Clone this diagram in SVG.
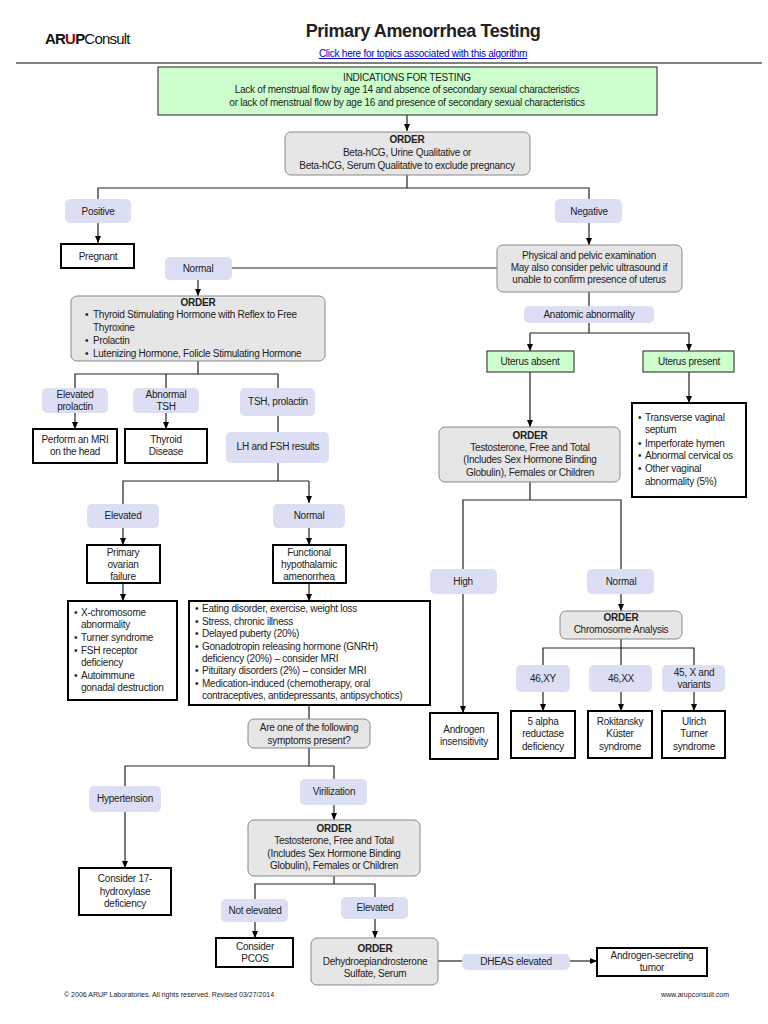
<svg xmlns="http://www.w3.org/2000/svg" width="768" height="1024" viewBox="0 0 768 1024">
<defs>
<marker id="ah" markerWidth="8" markerHeight="8" refX="7" refY="4" orient="auto" markerUnits="userSpaceOnUse"><path d="M0,1 L7,4 L0,7 Z" fill="#000"/></marker>
<style>
text{font-family:"Liberation Sans",Arial,sans-serif;font-size:10px;letter-spacing:-0.25px;fill:#222;text-anchor:middle}
.l{text-anchor:start}
.b{font-weight:bold}
.pill{fill:#dcdff3;stroke:none}
.grey{fill:#e6e6e6;stroke:#888;stroke-width:1}
.res{fill:#fff;stroke:#000;stroke-width:2}
.green{fill:#ccffcc;stroke:#444;stroke-width:1.2}
.c{fill:none;stroke:#222;stroke-width:1.2}
.a{fill:none;stroke:#222;stroke-width:1.2;marker-end:url(#ah)}
</style>
</defs>
<rect width="768" height="1024" fill="#fff"/>
<g id="header">
<text x="45" y="44" class="l" style="font-size:15px;font-weight:bold;fill:#111;letter-spacing:-0.8px">AR<tspan fill="#a00">U</tspan>P<tspan style="font-weight:normal">Consult</tspan></text>
<text x="423" y="37" class="b" style="font-size:18px;letter-spacing:-0.4px">Primary Amenorrhea Testing</text>
<text x="423" y="57" style="font-size:10px;fill:#00c;text-decoration:underline">Click here for topics associated with this algorithm</text>
<line x1="16" y1="63" x2="762" y2="63" stroke="#000" stroke-width="1.2"/>
</g>
<g id="connectors">
<path class="a" d="M407,115 V131"/>
<path class="c" d="M407,175 V188 M98,199 V188 H589 V199"/>
<path class="a" d="M98,223 V243"/>
<path class="a" d="M589,223 V245"/>
<path class="c" d="M232,268 H497"/>
<path class="a" d="M198,280 V296"/>
<path class="c" d="M198,361 V374 M75,388 V374 H278 V388 M166,374 V388"/>
<path class="a" d="M75,413 V429"/>
<path class="a" d="M166,413 V429"/>
<path class="c" d="M278,416 V432 M278,463 V481 M123,504 V481 H309"/>
<path class="a" d="M309,481 V503"/>
<path class="a" d="M123,528 V545"/>
<path class="a" d="M309,528 V545"/>
<path class="a" d="M123,583 V601"/>
<path class="a" d="M309,583 V601"/>
<path class="c" d="M309,705 V719 M309,748 V766 M125,786 V766 H334 V779"/>
<path class="a" d="M125,812 V868"/>
<path class="a" d="M334,805 V820"/>
<path class="c" d="M334,876 V884 M255,899 V884 H375 V897"/>
<path class="a" d="M255,922 V938"/>
<path class="a" d="M375,919 V938"/>
<path class="c" d="M438,961 H462"/>
<path class="a" d="M570,961 H597"/>
<path class="c" d="M589,292 V306 M589,323 V333 H530 M589,333 H689"/>
<path class="a" d="M530,333 V351"/>
<path class="a" d="M689,333 V351"/>
<path class="a" d="M530,372 V427"/>
<path class="a" d="M689,372 V403"/>
<path class="c" d="M530,482 V500 H463 V569 M530,500 H621 V569"/>
<path class="a" d="M463,594 V713"/>
<path class="a" d="M621,594 V611"/>
<path class="c" d="M621,639 V648 H543 V665 M621,648 V665 M621,648 H694 V665"/>
<path class="a" d="M543,692 V711"/>
<path class="a" d="M621,692 V711"/>
<path class="a" d="M694,692 V711"/>
</g>
<g id="indications"><rect class="green" x="158" y="67" width="499" height="48"/>
<text x="407" y="81">INDICATIONS FOR TESTING</text><text x="407" y="93">Lack of menstrual flow by age 14 and absence of secondary sexual characteristics</text><text x="407" y="106">or lack of menstrual flow by age 16 and presence of secondary sexual characteristics</text></g>
<g id="order1"><rect class="grey" x="285" y="132" width="245" height="43" rx="6"/>
<text x="407" y="143" class="b">ORDER</text><text x="407" y="156">Beta-hCG, Urine Qualitative or</text><text x="407" y="169">Beta-hCG, Serum Qualitative to exclude pregnancy</text></g>
<g id="positive"><rect class="pill" x="65" y="199" width="66" height="24" rx="5"/><text x="98" y="215">Positive</text></g>
<g id="negative"><rect class="pill" x="555" y="199" width="67" height="24" rx="5"/><text x="589" y="215">Negative</text></g>
<g id="pregnant"><rect class="res" x="61" y="244" width="73" height="24"/><text x="98" y="260">Pregnant</text></g>
<g id="physical"><rect class="grey" x="497" y="245" width="185" height="47" rx="6"/>
<text x="589" y="259">Physical and pelvic examination</text><text x="589" y="271">May also consider pelvic ultrasound if</text><text x="589" y="283">unable to confirm presence of uterus</text></g>
<g id="normal1"><rect class="pill" x="165" y="257" width="67" height="23" rx="5"/><text x="198" y="272">Normal</text></g>
<g id="order2"><rect class="grey" x="71" y="296" width="254" height="65" rx="6"/>
<text x="198" y="306" class="b">ORDER</text>
<text x="85" y="318" class="l">•</text><text x="93" y="318" class="l">Thyroid Stimulating Hormone with Reflex to Free</text>
<text x="93" y="331" class="l">Thyroxine</text>
<text x="85" y="344" class="l">•</text><text x="93" y="344" class="l">Prolactin</text>
<text x="85" y="357" class="l">•</text><text x="93" y="357" class="l">Lutenizing Hormone, Folicle Stimulating Hormone</text></g>
<g id="elevprl"><rect class="pill" x="42" y="388" width="66" height="25" rx="5"/><text x="75" y="398">Elevated</text><text x="75" y="410">prolactin</text></g>
<g id="abtsh"><rect class="pill" x="133" y="388" width="66" height="25" rx="5"/><text x="166" y="398">Abnormal</text><text x="166" y="410">TSH</text></g>
<g id="tshprl"><rect class="pill" x="240" y="388" width="75" height="28" rx="5"/><text x="278" y="405">TSH, prolactin</text></g>
<g id="mri"><rect class="res" x="33" y="429" width="84" height="34"/><text x="75" y="443">Perform an MRI</text><text x="75" y="455">on the head</text></g>
<g id="thyroid"><rect class="res" x="125" y="429" width="82" height="34"/><text x="166" y="443">Thyroid</text><text x="166" y="455">Disease</text></g>
<g id="lhfsh"><rect class="pill" x="226" y="432" width="103" height="31" rx="5"/><text x="278" y="450">LH and FSH results</text></g>
<g id="elev1"><rect class="pill" x="87" y="504" width="72" height="24" rx="5"/><text x="123" y="519">Elevated</text></g>
<g id="norm2"><rect class="pill" x="273" y="504" width="72" height="24" rx="5"/><text x="309" y="519">Normal</text></g>
<g id="pof"><rect class="res" x="87" y="545" width="73" height="38"/><text x="123" y="556">Primary</text><text x="123" y="568">ovarian</text><text x="123" y="580">failure</text></g>
<g id="fha"><rect class="res" x="273" y="545" width="73" height="38"/><text x="309" y="556">Functional</text><text x="309" y="568">hypothalamic</text><text x="309" y="580">amenorrhea</text></g>
<g id="poflist"><rect class="res" x="68" y="601" width="109" height="99"/>
<text x="74" y="616" class="l">•</text><text x="81" y="616" class="l">X-chromosome</text><text x="81" y="628" class="l">abnormality</text>
<text x="74" y="641" class="l">•</text><text x="81" y="641" class="l">Turner syndrome</text>
<text x="74" y="654" class="l">•</text><text x="81" y="654" class="l">FSH receptor</text><text x="81" y="666" class="l">deficiency</text>
<text x="74" y="679" class="l">•</text><text x="81" y="679" class="l">Autoimmune</text><text x="81" y="691" class="l">gonadal destruction</text></g>
<g id="fhalist"><rect class="res" x="189" y="601" width="241" height="104"/>
<text x="195" y="612" class="l">•</text><text x="202" y="612" class="l">Eating disorder, exercise, weight loss</text>
<text x="195" y="625" class="l">•</text><text x="202" y="625" class="l">Stress, chronic illness</text>
<text x="195" y="637" class="l">•</text><text x="202" y="637" class="l">Delayed puberty (20%)</text>
<text x="195" y="650" class="l">•</text><text x="202" y="650" class="l">Gonadotropin releasing hormone (GNRH)</text>
<text x="202" y="662" class="l">deficiency (20%) – consider MRI</text>
<text x="195" y="674" class="l">•</text><text x="202" y="674" class="l">Pituitary disorders (2%) – consider MRI</text>
<text x="195" y="687" class="l">•</text><text x="202" y="687" class="l">Medication-induced (chemotherapy, oral</text>
<text x="202" y="699" class="l">contraceptives, antidepressants, antipsychotics)</text></g>
<g id="question"><rect class="grey" x="248" y="719" width="122" height="29" rx="6"/><text x="309" y="731">Are one of the following</text><text x="309" y="744">symptoms present?</text></g>
<g id="hypert"><rect class="pill" x="89" y="786" width="72" height="26" rx="5"/><text x="125" y="802">Hypertension</text></g>
<g id="viril"><rect class="pill" x="300" y="779" width="67" height="26" rx="5"/><text x="334" y="795">Virilization</text></g>
<g id="hydrox"><rect class="res" x="79" y="868" width="92" height="47"/><text x="125" y="882">Consider 17-</text><text x="125" y="895">hydroxylase</text><text x="125" y="907">deficiency</text></g>
<g id="order3"><rect class="grey" x="248" y="820" width="172" height="56" rx="6"/>
<text x="334" y="832" class="b">ORDER</text><text x="334" y="844">Testosterone, Free and Total</text><text x="334" y="857">(Includes Sex Hormone Binding</text><text x="334" y="869">Globulin), Females or Children</text></g>
<g id="notelev"><rect class="pill" x="221" y="899" width="67" height="23" rx="5"/><text x="255" y="914">Not elevated</text></g>
<g id="elev2"><rect class="pill" x="341" y="897" width="67" height="22" rx="5"/><text x="375" y="911">Elevated</text></g>
<g id="pcos"><rect class="res" x="216" y="938" width="77" height="29"/><text x="255" y="950">Consider</text><text x="255" y="962">PCOS</text></g>
<g id="dheas"><rect class="grey" x="311" y="938" width="127" height="47" rx="6"/><text x="375" y="952" class="b">ORDER</text><text x="375" y="965">Dehydroepiandrosterone</text><text x="375" y="977">Sulfate, Serum</text></g>
<g id="dheaselev"><rect class="pill" x="462" y="954" width="108" height="16" rx="5"/><text x="516" y="965">DHEAS elevated</text></g>
<g id="tumor"><rect class="res" x="597" y="948" width="110" height="28"/><text x="652" y="959">Androgen-secreting</text><text x="652" y="971">tumor</text></g>
<g id="anatomic"><rect class="pill" x="524" y="306" width="130" height="17" rx="5"/><text x="589" y="318">Anatomic abnormality</text></g>
<g id="uabsent"><rect class="green" x="487" y="351" width="87" height="21"/><text x="530" y="365">Uterus absent</text></g>
<g id="upresent"><rect class="green" x="643" y="351" width="91" height="21"/><text x="689" y="365">Uterus present</text></g>
<g id="order4"><rect class="grey" x="439" y="427" width="181" height="55" rx="6"/>
<text x="530" y="439" class="b">ORDER</text><text x="530" y="451">Testosterone, Free and Total</text><text x="530" y="463">(Includes Sex Hormone Binding</text><text x="530" y="476">Globulin), Females or Children</text></g>
<g id="vaglist"><rect class="res" x="632" y="403" width="114" height="94"/>
<text x="638" y="421" class="l">•</text><text x="645" y="421" class="l">Transverse vaginal</text><text x="645" y="433" class="l">septum</text>
<text x="638" y="447" class="l">•</text><text x="645" y="447" class="l">Imperforate hymen</text>
<text x="638" y="459" class="l">•</text><text x="645" y="459" class="l">Abnormal cervical os</text>
<text x="638" y="472" class="l">•</text><text x="645" y="472" class="l">Other vaginal</text><text x="645" y="485" class="l">abnormality (5%)</text></g>
<g id="high"><rect class="pill" x="430" y="569" width="67" height="25" rx="5"/><text x="463" y="585">High</text></g>
<g id="normal3"><rect class="pill" x="587" y="569" width="67" height="25" rx="5"/><text x="621" y="585">Normal</text></g>
<g id="ais"><rect class="res" x="430" y="713" width="68" height="46"/><text x="464" y="733">Androgen</text><text x="464" y="745">insensitivity</text></g>
<g id="chrom"><rect class="grey" x="560" y="611" width="122" height="28" rx="6"/><text x="621" y="621" class="b">ORDER</text><text x="621" y="633">Chromosome Analysis</text></g>
<g id="xy"><rect class="pill" x="516" y="665" width="54" height="27" rx="5"/><text x="543" y="682">46,XY</text></g>
<g id="xx"><rect class="pill" x="589" y="665" width="63" height="27" rx="5"/><text x="621" y="682">46,XX</text></g>
<g id="x45"><rect class="pill" x="662" y="665" width="63" height="27" rx="5"/><text x="694" y="676">45, X and</text><text x="694" y="688">variants</text></g>
<g id="alpha"><rect class="res" x="511" y="711" width="64" height="47"/><text x="543" y="725">5 alpha</text><text x="543" y="737">reductase</text><text x="543" y="750">deficiency</text></g>
<g id="roki"><rect class="res" x="588" y="711" width="64" height="47"/><text x="620" y="725">Rokitansky</text><text x="620" y="737">Küster</text><text x="620" y="750">syndrome</text></g>
<g id="ulrich"><rect class="res" x="662" y="711" width="63" height="47"/><text x="694" y="725">Ulrich</text><text x="694" y="737">Turner</text><text x="694" y="750">syndrome</text></g>
<g id="footer">
<text x="64" y="997" class="l" style="font-size:7px;letter-spacing:0">© 2006 ARUP Laboratories. All rights reserved. Revised 03/27/2014</text>
<text x="729" y="997" style="font-size:7px;text-anchor:end;letter-spacing:0">www.arupconsult.com</text></g>
</svg>
